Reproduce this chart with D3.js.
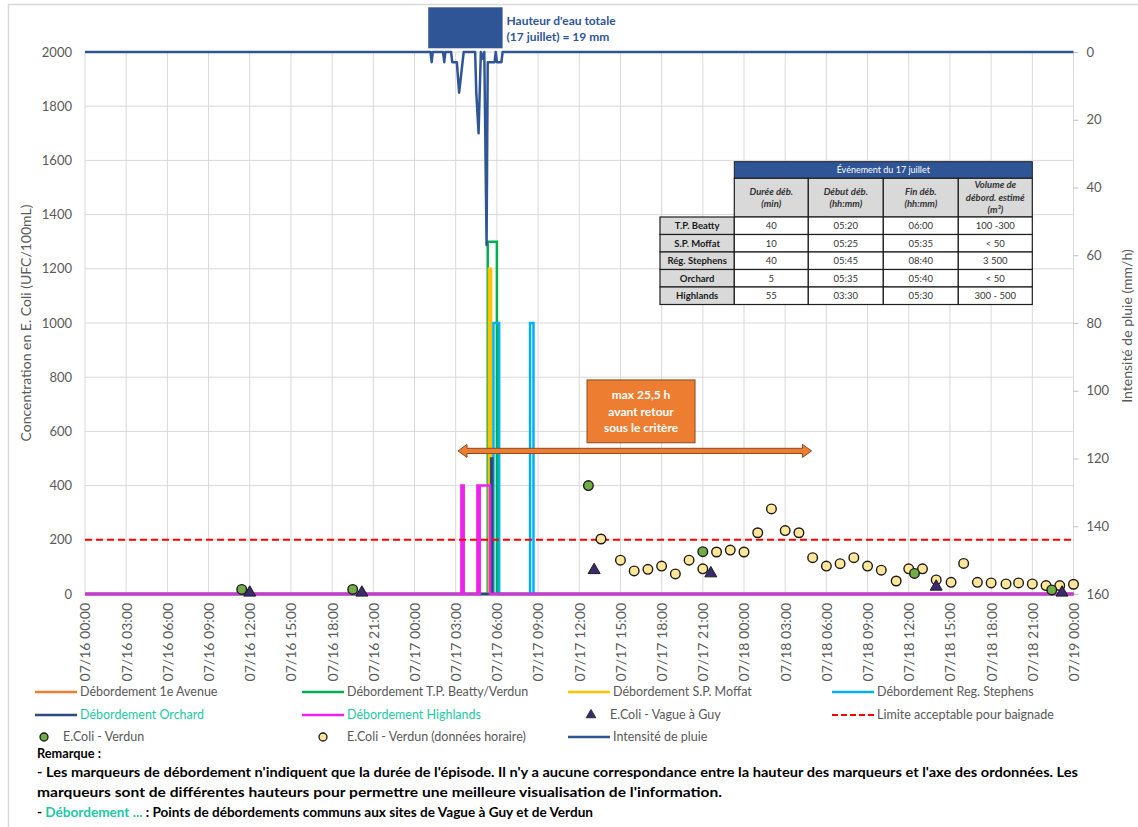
<!DOCTYPE html>
<html><head><meta charset="utf-8">
<script src="https://cdn.jsdelivr.net/npm/d3@7"></script>
<style>
body{margin:0;background:#fff;}
svg{font-family:Lato,"Open Sans",sans-serif;}
</style></head><body>
<svg id="c" width="1138" height="827"></svg>
<script>
// ---------------- DATA ----------------
const xTickLabels = ["07/16 00:00","07/16 03:00","07/16 06:00","07/16 09:00","07/16 12:00","07/16 15:00","07/16 18:00","07/16 21:00",
  "07/17 00:00","07/17 03:00","07/17 06:00","07/17 09:00","07/17 12:00","07/17 15:00","07/17 18:00","07/17 21:00",
  "07/18 00:00","07/18 03:00","07/18 06:00","07/18 09:00","07/18 12:00","07/18 15:00","07/18 18:00","07/18 21:00","07/19 00:00"];
const yLeftTicks = [0,200,400,600,800,1000,1200,1400,1600,1800,2000];
const yRightTicks = [0,20,40,60,80,100,120,140,160];

// Rain intensity (mm/h)
const rainTimes = ["07/16 00:00","07/17 01:10","07/17 01:15","07/17 01:20","07/17 02:05","07/17 02:10","07/17 02:15","07/17 02:40",
  "07/17 02:45","07/17 02:50","07/17 02:55","07/17 03:00","07/17 03:05","07/17 03:15","07/17 03:25","07/17 03:35","07/17 04:25",
  "07/17 04:30","07/17 04:40","07/17 04:50","07/17 04:55","07/17 05:05","07/17 05:15","07/17 05:20","07/17 05:25","07/17 05:30",
  "07/17 05:35","07/17 05:40","07/17 05:45","07/17 05:50","07/17 05:55","07/17 06:00","07/17 06:05","07/17 06:10","07/17 06:15",
  "07/17 06:20","07/17 06:25","07/19 00:00"];
const rainValues = [0,0,3,0,0,3,0,0,
  3,3,3,3,3,12,6,0,0,
  12,24,0,2,0,57,3,3,3,
  3,3,3,3,0,3,3,3,3,
  3,0,0];

// Overflow episodes (start, end) and marker heights
const avenue1Periods = [];
const avenue1Height = 0;
const beattyPeriods = [["07/17 05:20","07/17 06:00"]];
const beattyHeight = 1300;
const moffatPeriods = [["07/17 05:25","07/17 05:35"]];
const moffatHeight = 1200;
const stephensPeriods = [["07/17 05:45","07/17 06:10"],["07/17 08:25","07/17 08:40"]];
const stephensHeight = 1000;
const orchardPeriods = [["07/17 05:35","07/17 05:40"]];
const orchardHeight = 500;
const highlandsPeriods = [["07/17 03:25","07/17 03:35"],["07/17 04:35","07/17 04:40"],["07/17 04:45","07/17 05:30"]];
const highlandsHeight = 400;

// E.Coli samples
const verdunTimes = ["07/16 11:25","07/16 19:30","07/17 12:40","07/17 21:00","07/18 12:25","07/18 22:25"];
const verdunValues = [17,17,400,156,76,15];
const guyTimes = ["07/16 12:00","07/16 20:10","07/17 13:05","07/17 21:35","07/18 14:00","07/18 23:10"];
const guyValues = [5,5,88,76,27,5];
const hourlyTimes = ["07/17 13:35","07/17 15:00","07/17 16:00","07/17 17:00","07/17 18:00","07/17 19:00","07/17 20:00","07/17 21:00",
  "07/17 22:00","07/17 23:00","07/18 00:00","07/18 01:00","07/18 02:00","07/18 03:00","07/18 04:00","07/18 05:00","07/18 06:00",
  "07/18 07:00","07/18 08:00","07/18 09:00","07/18 10:00","07/18 11:05","07/18 12:00","07/18 13:00","07/18 14:00","07/18 15:05",
  "07/18 16:00","07/18 17:00","07/18 18:00","07/18 19:05","07/18 20:00","07/18 21:00","07/18 22:00","07/18 23:00","07/19 00:00"];
const hourlyValues = [203,125,85,91,103,74,125,93,
  155,162,155,226,314,234,226,134,103,
  112,134,103,88,48,93,93,52,43,
  113,43,41,37,41,37,31,31,36];
const limitValue = 200;

// Table
const tableTitle = "Événement du 17 juillet";
const tableHeaders = [["Durée déb.","(min)"],["Début déb.","(hh:mm)"],["Fin déb.","(hh:mm)"],["Volume de","débord. estimé","(m³)"]];
const tableRows = ["T.P. Beatty","S.P. Moffat","Rég. Stephens","Orchard","Highlands"];
const tableDuree = ["40","10","40","5","55"];
const tableDebut = ["05:20","05:25","05:45","05:35","03:30"];
const tableFin = ["06:00","05:35","08:40","05:40","05:30"];
const tableVolume = ["100 -300","< 50","3 500","< 50","300 - 500"];

// Annotations
const arrowStart = "07/17 03:10", arrowEnd = "07/18 04:55", arrowLevel = 528;
const boxStart = "07/17 12:34", boxEnd = "07/17 20:26", boxTop = 790, boxBottom = 558;
const boxLines = ["max 25,5 h","avant retour","sous le critère"];
const rainNote = ["Hauteur d'eau totale","(17 juillet) = 19 mm"];

// ---------------- CHART ----------------
const parse = d3.timeParse("%m/%d %H:%M");
const svg = d3.select("#c");
const t0 = parse(xTickLabels[0]), t1 = parse(xTickLabels[xTickLabels.length-1]);
const x = d3.scaleTime().domain([t0,t1]).range([85,1073.5]);
const yL = d3.scaleLinear().domain([0,2000]).range([594,52]);
const yR = d3.scaleLinear().domain([0,160]).range([52,594]);
const grey = "#595959";

// chart border
svg.append("path").attr("d","M8.5,900V4.5H1138").attr("fill","none").attr("stroke","#D9D9D9").attr("stroke-width",1.5);

// gridlines
svg.append("g").selectAll("line").data(yLeftTicks).join("line")
  .attr("x1",x.range()[0]).attr("x2",x.range()[1]).attr("y1",d=>yL(d)).attr("y2",d=>yL(d))
  .attr("stroke","#D9D9D9").attr("stroke-width",1);
svg.append("g").selectAll("line").data(xTickLabels).join("line")
  .attr("x1",d=>x(parse(d))).attr("x2",d=>x(parse(d))).attr("y1",yL(2000)).attr("y2",yL(0))
  .attr("stroke","#D9D9D9").attr("stroke-width",1);

// axes
const gL = svg.append("g").attr("transform","translate(85,0)")
  .call(d3.axisLeft(yL).tickValues(yLeftTicks).tickFormat(d3.format("d")).tickSize(0).tickPadding(13));
gL.select(".domain").remove();
gL.selectAll("text").attr("fill",grey).style("font-size","13px").style("font-family","Lato");

const gR = svg.append("g").attr("transform","translate(1073.5,0)")
  .call(d3.axisRight(yR).tickValues(yRightTicks).tickFormat(d3.format("d")).tickSize(5).tickPadding(8));
gR.select(".domain").remove();
gR.selectAll("line").attr("stroke","#BFBFBF");
gR.selectAll("text").attr("fill",grey).style("font-size","13px").style("font-family","Lato");

const gX = svg.append("g").attr("transform","translate(0,594)")
  .call(d3.axisBottom(x).tickValues(xTickLabels.map(parse)).tickFormat(d3.timeFormat("%m/%d %H:%M")).tickSize(0));
gX.select(".domain").remove();
gX.selectAll("text").attr("fill",grey).style("font-size","14px").style("font-family","Lato")
  .attr("transform","rotate(-90)").attr("x",-9).attr("y",0).attr("dy","0.35em").style("text-anchor","end");

// axis titles
svg.append("text").attr("transform","translate(31,323) rotate(-90)").attr("text-anchor","middle")
  .attr("fill",grey).style("font-size","14px").text("Concentration en E. Coli (UFC/100mL)");
svg.append("text").attr("transform","translate(1132,326) rotate(-90)").attr("text-anchor","middle")
  .attr("fill",grey).style("font-size","14px").text("Intensité de pluie (mm/h)");

// overflow step series
function pulses(periods,h){
  const pts=[{t:t0,v:0}];
  periods.forEach(([a,b])=>{const ta=parse(a),tb=parse(b);
    pts.push({t:ta,v:0},{t:ta,v:h},{t:tb,v:h},{t:tb,v:0});});
  pts.push({t:t1,v:0});
  return pts;
}
const lineL = d3.line().x(d=>x(d.t)).y(d=>yL(d.v));
const overflow = [
  {p:avenue1Periods,h:avenue1Height,c:"#ED7D31"},
  {p:beattyPeriods,h:beattyHeight,c:"#00B050"},
  {p:moffatPeriods,h:moffatHeight,c:"#FFC000"},
  {p:stephensPeriods,h:stephensHeight,c:"#00B0F0"},
  {p:orchardPeriods,h:orchardHeight,c:"#2B4A80"},
  {p:highlandsPeriods,h:highlandsHeight,c:"#F020F0"}
];
overflow.forEach(s=>{
  svg.append("path").attr("d",lineL(pulses(s.p,s.h))).attr("fill","none")
    .attr("stroke",s.c).attr("stroke-width",2.5).attr("stroke-linejoin","miter");
});

// limit line
svg.append("line").attr("x1",x.range()[0]).attr("x2",x.range()[1]).attr("y1",yL(limitValue)).attr("y2",yL(limitValue))
  .attr("stroke","#FF0000").attr("stroke-width",2).attr("stroke-dasharray","7,4");

// rain
const rain = rainTimes.map((t,i)=>({t:parse(t),v:rainValues[i]}));
svg.append("path").attr("d",d3.line().x(d=>x(d.t)).y(d=>yR(d.v))(rain)).attr("fill","none")
  .attr("stroke","#2F5597").attr("stroke-width",2.5).attr("stroke-linejoin","round");

// rain note box
svg.append("rect").attr("x",x(parse("07/17 01:00"))).attr("y",7.3)
  .attr("width",x(parse("07/17 06:25"))-x(parse("07/17 01:00"))).attr("height",41).attr("fill","#2F5597");
rainNote.forEach((l,i)=>svg.append("text").attr("x",506.5).attr("y",20.5+i*16).attr("dy","0.35em")
  .attr("fill","#2F5597").style("font-weight","bold").style("font-size","12px").text(l));

// markers
const hourly = hourlyTimes.map((t,i)=>({t:parse(t),v:hourlyValues[i]}));
const verdun = verdunTimes.map((t,i)=>({t:parse(t),v:verdunValues[i]}));
const guy = guyTimes.map((t,i)=>({t:parse(t),v:guyValues[i]}));
svg.append("g").selectAll("circle").data(hourly).join("circle")
  .attr("cx",d=>x(d.t)).attr("cy",d=>yL(d.v)).attr("r",4.8)
  .attr("fill","#FFE699").attr("stroke","#1a1a1a").attr("stroke-width",1.4);
svg.append("g").selectAll("circle").data(verdun).join("circle")
  .attr("cx",d=>x(d.t)).attr("cy",d=>yL(d.v)).attr("r",4.8)
  .attr("fill","#70AD47").attr("stroke","#1a1a1a").attr("stroke-width",1.4);
const tri = d3.symbol(d3.symbolTriangle,62);
svg.append("g").selectAll("path").data(guy).join("path")
  .attr("transform",d=>`translate(${x(d.t)},${yL(d.v)})`).attr("d",tri)
  .attr("fill","#3B2A70").attr("stroke","#1a1a1a").attr("stroke-width",1);

// orange arrow
(function(){
  const xa=x(parse(arrowStart)), xb=x(parse(arrowEnd)), ya=yL(arrowLevel);
  const s=2.6, hw=6.5, hl=9;
  const d=`M${xa},${ya} L${xa+hl},${ya-hw} L${xa+hl},${ya-s} L${xb-hl},${ya-s} L${xb-hl},${ya-hw} L${xb},${ya} L${xb-hl},${ya+hw} L${xb-hl},${ya+s} L${xa+hl},${ya+s} L${xa+hl},${ya+hw} Z`;
  svg.append("path").attr("d",d).attr("fill","#ED7D31").attr("stroke","#8C4A1E").attr("stroke-width",1);
  const bx=x(parse(boxStart)), bx2=x(parse(boxEnd)), by=yL(boxTop), by2=yL(boxBottom);
  svg.append("rect").attr("x",bx).attr("y",by).attr("width",bx2-bx).attr("height",by2-by)
    .attr("fill","#ED7D31").attr("stroke","#8C4A1E").attr("stroke-width",1);
  boxLines.forEach((l,i)=>svg.append("text").attr("x",(bx+bx2)/2).attr("y",by+15+i*16.5).attr("dy","0.35em")
    .attr("text-anchor","middle").attr("fill","#fff").style("font-weight","bold").style("font-size","12px").text(l));
})();

// table
(function(){
  const cx=[660,734.3,808.3,883.3,958.3,1032.3];
  const ry=[217,234.5,252,269.5,287,304.5];
  const g=svg.append("g");
  const bd="#1f1f1f";
  g.append("rect").attr("x",cx[1]).attr("y",161.7).attr("width",cx[5]-cx[1]).attr("height",16.6)
    .attr("fill","#2F5597").attr("stroke",bd).attr("stroke-width",1);
  g.append("text").attr("x",(cx[1]+cx[5])/2).attr("y",170).attr("dy","0.35em").attr("text-anchor","middle")
    .attr("fill","#fff").style("font-size","9px").text(tableTitle);
  tableHeaders.forEach((h,i)=>{
    g.append("rect").attr("x",cx[i+1]).attr("y",178.3).attr("width",cx[i+2]-cx[i+1]).attr("height",ry[0]-178.3)
      .attr("fill","#D9D9D9").attr("stroke",bd).attr("stroke-width",1.2);
    const mid=(178.3+ry[0])/2, lh=12.5;
    h.forEach((l,j)=>g.append("text").attr("x",(cx[i+1]+cx[i+2])/2).attr("y",mid+(j-(h.length-1)/2)*lh).attr("dy","0.35em")
      .attr("text-anchor","middle").attr("fill","#333").style("font-size","9.5px").style("font-weight","bold").style("font-style","italic").text(l));
  });
  const cols=[tableDuree,tableDebut,tableFin,tableVolume];
  tableRows.forEach((r,i)=>{
    const y0=ry[i], y1=ry[i+1], ym=(y0+y1)/2;
    g.append("rect").attr("x",cx[0]).attr("y",y0).attr("width",cx[1]-cx[0]).attr("height",y1-y0)
      .attr("fill","#D9D9D9").attr("stroke",bd).attr("stroke-width",1.2);
    g.append("text").attr("x",(cx[0]+cx[1])/2).attr("y",ym).attr("dy","0.35em").attr("text-anchor","middle")
      .attr("fill","#1a1a1a").style("font-size","9.5px").style("font-weight","bold").text(r);
    cols.forEach((c,j)=>{
      g.append("rect").attr("x",cx[j+1]).attr("y",y0).attr("width",cx[j+2]-cx[j+1]).attr("height",y1-y0)
        .attr("fill","#fff").attr("stroke",bd).attr("stroke-width",1.2);
      g.append("text").attr("x",(cx[j+1]+cx[j+2])/2).attr("y",ym).attr("dy","0.35em").attr("text-anchor","middle")
        .attr("fill","#333").style("font-size","9.5px").text(c[i]);
    });
  });
})();

// legend
(function(){
  const g=svg.append("g").style("font-size","12.5px");
  const teal="#1CC9A4";
  const items=[
    {type:"line",c:"#ED7D31",tx:80,y:692,label:"Débordement 1e Avenue"},
    {type:"line",c:"#00B050",tx:347,y:692,label:"Débordement T.P. Beatty/Verdun"},
    {type:"line",c:"#FFC000",tx:613,y:692,label:"Débordement S.P. Moffat"},
    {type:"line",c:"#00B0F0",tx:877,y:692,label:"Débordement Reg. Stephens"},
    {type:"line",c:"#2B4A80",tx:80,y:715,label:"Débordement Orchard",tc:teal},
    {type:"line",c:"#F020F0",tx:347,y:715,label:"Débordement Highlands",tc:teal},
    {type:"tri",tx:610,mx:591,y:715,label:"E.Coli - Vague à Guy"},
    {type:"dash",c:"#FF0000",tx:877,y:715,label:"Limite acceptable pour baignade"},
    {type:"circ",c:"#70AD47",tx:63,mx:44,y:737,label:"E.Coli - Verdun"},
    {type:"circ",c:"#FFE699",tx:347,mx:323,y:737,label:"E.Coli - Verdun (données horaire)"},
    {type:"line",c:"#2F5597",tx:613,y:737,label:"Intensité de pluie"}
  ];
  items.forEach(it=>{
    if(it.type==="line"||it.type==="dash"){
      g.append("line").attr("x1",it.tx-45).attr("x2",it.tx-3).attr("y1",it.y).attr("y2",it.y)
        .attr("stroke",it.c).attr("stroke-width",it.type==="dash"?2.2:2.5).attr("stroke-dasharray",it.type==="dash"?"6,3":null);
    } else if(it.type==="circ"){
      g.append("circle").attr("cx",it.mx).attr("cy",it.y).attr("r",4).attr("fill",it.c).attr("stroke","#1a1a1a").attr("stroke-width",1.3);
    } else {
      g.append("path").attr("transform",`translate(${it.mx},${it.y})`).attr("d",d3.symbol(d3.symbolTriangle,40))
        .attr("fill","#3B2A70").attr("stroke","#1a1a1a").attr("stroke-width",0.8);
    }
    g.append("text").attr("x",it.tx).attr("y",it.y).attr("dy","0.35em").attr("fill",it.tc||grey).text(it.label);
  });
  const r=svg.append("g").style("font-size","13.5px").style("font-weight","bold").attr("fill","#000");
  r.append("text").attr("x",37).attr("y",753).attr("dy","0.35em").attr("textLength",64).attr("lengthAdjust","spacingAndGlyphs").text("Remarque :");
  r.append("text").attr("x",37).attr("y",772).attr("dy","0.35em").attr("textLength",1041).attr("lengthAdjust","spacingAndGlyphs")
    .text("- Les marqueurs de débordement n'indiquent que la durée de l'épisode. Il n'y a aucune correspondance entre la hauteur des marqueurs et l'axe des ordonnées. Les");
  r.append("text").attr("x",37).attr("y",792).attr("dy","0.35em").attr("textLength",685).attr("lengthAdjust","spacingAndGlyphs")
    .text("marqueurs sont de différentes hauteurs pour permettre une meilleure visualisation de l'information.");
  const l3=r.append("text").attr("x",37).attr("y",812).attr("dy","0.35em").attr("textLength",556).attr("lengthAdjust","spacingAndGlyphs");
  l3.append("tspan").text("- ");
  l3.append("tspan").attr("fill",teal).text("Débordement ...");
  l3.append("tspan").text(" : Points de débordements communs aux sites de Vague à Guy et de Verdun");
})();
</script>
</body></html>
